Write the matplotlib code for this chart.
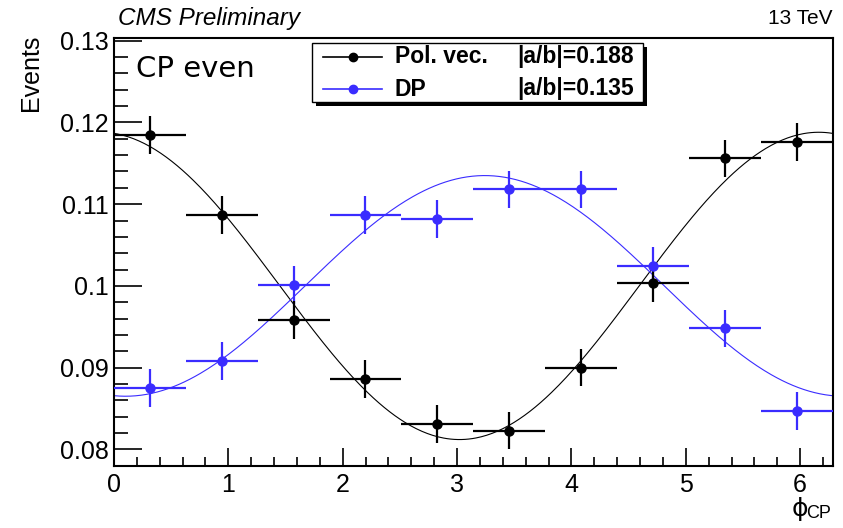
import numpy as np
import matplotlib
matplotlib.use("Agg")
import matplotlib.pyplot as plt
from matplotlib.patches import Rectangle
from matplotlib.lines import Line2D

# ---- data ----
n_bins = 10
x_lo, x_hi = 0.0, 2 * np.pi
pol_vals = [0.1185, 0.1087, 0.0958, 0.0886, 0.0831, 0.0823, 0.0900, 0.1003, 0.1156, 0.1176]
dp_vals = [0.0875, 0.0908, 0.1001, 0.1087, 0.1082, 0.1118, 0.1118, 0.1024, 0.0948, 0.0847]
pol_err = [0.0023] * 10
dp_err = [0.0023] * 10
# fit parameters: offset + amp*cos(x + phase)  (fit curves)
pol_fit = dict(offset=0.1000, amp=0.0188, phase=0.12)
dp_fit = dict(offset=0.1000, amp=-0.0135, phase=-0.10)
labels_name = ["Pol. vec.", "DP"]
labels_ratio = ["|a/b|=0.188", "|a/b|=0.135"]

BLACK = "#000000"
BLUE = "#3a2cff"
FONT = "Liberation Sans"

fig = plt.figure(figsize=(8.43, 5.28), dpi=100)
ax = fig.add_axes([114 / 843, 1 - 465.7 / 528, (832.5 - 114) / 843, (465.7 - 37.7) / 528])

edges = np.linspace(x_lo, x_hi, n_bins + 1)
centers = 0.5 * (edges[:-1] + edges[1:])
halfw = 0.5 * (edges[1] - edges[0])

xf = np.linspace(x_lo, x_hi, 400)
for fit, col in [(pol_fit, BLACK), (dp_fit, BLUE)]:
    ax.plot(xf, fit["offset"] + fit["amp"] * np.cos(xf + fit["phase"]), color=col, lw=0.8, zorder=2)

for vals, errs, col in [(dp_vals, dp_err, BLUE), (pol_vals, pol_err, BLACK)]:
    ax.errorbar(centers, vals, yerr=errs, xerr=halfw, fmt="o", color=col, ms=6.5,
                elinewidth=1.6, capsize=0, zorder=3)

ax.set_xlim(x_lo, x_hi)
ax.set_ylim(0.0782, 0.13037)

ax.set_xticks([0, 1, 2, 3, 4, 5, 6])
ax.set_xticks(np.arange(0, 6.3, 0.2), minor=True)
ax.set_yticks([0.08, 0.09, 0.10, 0.11, 0.12, 0.13])
ax.set_yticks(np.arange(0.078, 0.1305, 0.002), minor=True)
ax.set_yticklabels(["0.08", "0.09", "0.1", "0.11", "0.12", "0.13"])
ax.tick_params(axis="both", which="both", direction="in", top=False, right=False, width=1.2)
ax.tick_params(axis="y", which="major", length=20, pad=4)
ax.tick_params(axis="y", which="minor", length=10)
ax.tick_params(axis="x", which="major", length=13, pad=5)
ax.tick_params(axis="x", which="minor", length=6.5)
for lab in ax.get_xticklabels() + ax.get_yticklabels():
    lab.set_fontfamily(FONT)
    lab.set_fontsize(18)
for s in ax.spines.values():
    s.set_linewidth(1.5)

# texts
fig.text(118 / 843, 1 - 19 / 528, "CMS Preliminary", family=FONT, style="italic",
         fontsize=17.5, va="center", ha="left")
fig.text(832 / 843, 1 - 19 / 528, "13 TeV", family=FONT, fontsize=15, va="center", ha="right")
fig.text(31 / 843, 1 - 35 / 528, "Events", family=FONT, fontsize=18, rotation=90,
         va="top", ha="center")
fig.text(136 / 843, 1 - 69 / 528, "CP even", family="DejaVu Sans", fontsize=21,
         va="center", ha="left")
fig.text(792 / 843, 1 - 509 / 528, "ϕ", family="DejaVu Sans", fontsize=18, va="center", ha="left")
fig.text(806 / 843, 1 - 514 / 528, "CP", family=FONT, fontsize=13, va="center", ha="left")

# legend (manual, ROOT style with shadow)
def fx(px):
    return px / 843

def fy(py):
    return 1 - py / 528

shadow = Rectangle((fx(316), fy(106)), fx(647) - fx(316), fy(47) - fy(106),
                   transform=fig.transFigure, facecolor="black", edgecolor="none", zorder=5)
box = Rectangle((fx(311.5), fy(102)), fx(643) - fx(311.5), fy(43.5) - fy(102),
                transform=fig.transFigure, facecolor="white", edgecolor="black", lw=1.0, zorder=6)
fig.add_artist(shadow)
fig.add_artist(box)
for i, (col, y) in enumerate([(BLACK, 56.7), (BLUE, 89)]):
    fig.add_artist(Line2D([fx(323), fx(382)], [fy(y), fy(y)], color=col, lw=1.2,
                          transform=fig.transFigure, zorder=7))
    fig.add_artist(Line2D([fx(352.5)], [fy(y)], color=col, marker="o", ms=6,
                          transform=fig.transFigure, zorder=7))
    fig.text(fx(395), fy(y), labels_name[i], family=FONT, weight="bold", fontsize=16.5,
             va="center", ha="left", zorder=7)
    fig.text(fx(634), fy(y), labels_ratio[i], family=FONT, weight="bold", fontsize=16.5,
             va="center", ha="right", zorder=7)

fig.savefig("out.png", dpi=100)
